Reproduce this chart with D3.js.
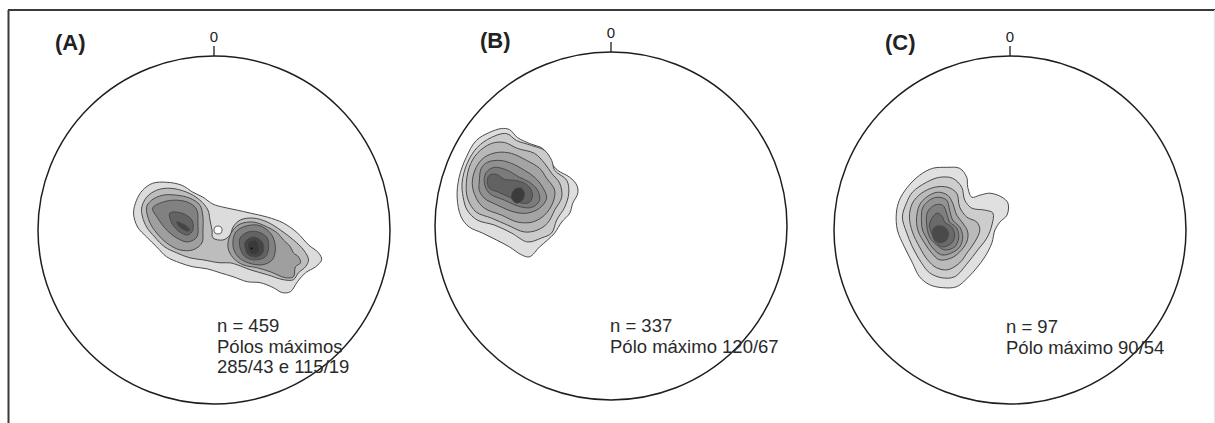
<!DOCTYPE html>
<html><head><meta charset="utf-8">
<script src="https://cdn.jsdelivr.net/npm/d3@7"></script>
<style>
html,body{margin:0;padding:0;background:#fff;}
svg{display:block;font-family:"Liberation Sans",Arial,sans-serif;}
</style></head>
<body>
<svg id="chart" width="1215" height="423"></svg>
<script>
// ---------- DATA (net units: x = east, y = north, net radius ≈ 175) ----------
const panelKeys = ["A", "B", "C"];
const panelLabels = ["(A)", "(B)", "(C)"];
const northLabel = "0";

const textA = ["n = 459", "Pólos máximos", "285/43 e 115/19"];
const textB = ["n = 337", "Pólo máximo 120/67"];
const textC = ["n = 97", "Pólo máximo 90/54"];

// density contours (level 1 = lowest density)
const contoursA = [
  {level: 1, pts: [[-80,17],[-77,30],[-71,40],[-61,47],[-47,48],[-32,45],[-21,38],[-11,33],[-1,26],[9,23],[23,20],[36,17],[53,13],[69,7],[83,-3],[94,-15],[104,-23],[107,-30],[101,-37],[91,-43],[83,-52],[76,-62],[68,-63],[59,-58],[46,-53],[33,-52],[19,-47],[6,-43],[-7,-39],[-21,-37],[-34,-33],[-47,-27],[-57,-17],[-67,-7],[-76,3]]},
  {level: 2, pts: [[-72,22],[-67,33],[-57,40],[-44,42],[-27,38],[-14,30],[-6,20],[-4,10],[-2,0],[-1,-8],[9,-10],[16,-5],[19,3],[26,10],[39,12],[53,8],[66,0],[79,-10],[89,-20],[94,-30],[91,-37],[84,-43],[79,-50],[69,-50],[53,-45],[36,-40],[23,-35],[16,-33],[6,-33],[-11,-30],[-24,-28],[-37,-23],[-49,-17],[-59,-7],[-67,3],[-71,13]]},
  {level: 3, pts: [[-67,23],[-62,30],[-51,35],[-37,35],[-24,32],[-14,25],[-11,13],[-11,0],[-12,-13],[-21,-20],[-34,-20],[-47,-13],[-57,-3],[-64,8]]},
  {level: 3, pts: [[19,0],[26,6],[39,8],[53,3],[63,-3],[69,-10],[76,-17],[79,-23],[84,-27],[86,-33],[81,-37],[79,-47],[71,-48],[56,-42],[43,-38],[29,-35],[19,-28],[14,-18],[15,-8]]},
  {level: 4, pts: [[-61,22],[-51,28],[-37,30],[-24,27],[-17,20],[-16,7],[-17,-7],[-26,-12],[-37,-8],[-47,0],[-56,12]]},
  {level: 4, pts: [[21,-3],[29,3],[43,5],[53,0],[59,-8],[61,-20],[58,-30],[48,-35],[34,-33],[24,-27],[19,-17]]},
  {level: 5, pts: [[-44,17],[-32,17],[-22,10],[-21,0],[-26,-5],[-34,-2],[-42,7]]},
  {level: 5, pts: [[26,-8],[34,-2],[44,-2],[53,-8],[54,-20],[51,-27],[41,-30],[31,-27],[26,-18]]},
  {level: 6, pts: [[-37,8],[-29,5],[-24,0],[-27,-1],[-34,3]]},
  {level: 6, pts: [[31,-12],[39,-7],[48,-12],[49,-22],[43,-27],[34,-25],[31,-18]]},
  {level: 7, pts: [[34,-13],[41,-10],[45,-17],[44,-23],[38,-25],[34,-20]]},
  {level: 8, pts: [[37,-17],[39,-18],[38,-20],[36,-19]]}
];
// empty (zero-density) pocket between the two maxima of A
const holesA = [{cx: 4, cy: 0, r: 4}];

const contoursB = [
  {level: 1, pts: [[-153,29],[-151,49],[-144,69],[-134,86],[-121,94],[-109,98],[-101,97],[-93,89],[-81,83],[-68,78],[-63,71],[-59,63],[-53,56],[-41,49],[-34,41],[-33,33],[-38,23],[-41,13],[-49,4],[-56,-7],[-63,-14],[-71,-21],[-81,-31],[-89,-29],[-101,-21],[-114,-14],[-128,-7],[-141,-1],[-149,9]]},
  {level: 2, pts: [[-148,44],[-143,63],[-133,79],[-119,89],[-104,93],[-94,86],[-79,81],[-66,76],[-59,66],[-56,56],[-44,46],[-42,33],[-46,19],[-54,6],[-59,-7],[-69,-12],[-83,-16],[-99,-7],[-116,1],[-133,6],[-143,16],[-147,29]]},
  {level: 3, pts: [[-144,39],[-141,59],[-133,73],[-119,83],[-106,84],[-93,78],[-76,73],[-66,63],[-59,53],[-51,43],[-49,29],[-56,16],[-63,3],[-73,-4],[-86,-6],[-103,1],[-119,8],[-134,14],[-142,26]]},
  {level: 4, pts: [[-138,43],[-134,59],[-126,69],[-113,74],[-99,73],[-84,66],[-71,58],[-64,48],[-56,36],[-58,23],[-66,11],[-78,4],[-93,4],[-109,11],[-126,18],[-134,28]]},
  {level: 5, pts: [[-131,44],[-129,58],[-123,64],[-111,66],[-99,63],[-86,56],[-76,49],[-68,39],[-64,28],[-71,18],[-83,13],[-96,14],[-113,21],[-126,28],[-131,36]]},
  {level: 6, pts: [[-126,44],[-124,54],[-116,59],[-103,56],[-91,49],[-81,44],[-73,36],[-71,26],[-78,19],[-89,19],[-106,26],[-121,33]]},
  {level: 7, pts: [[-123,46],[-121,51],[-114,52],[-106,47],[-97,46],[-88,44],[-81,39],[-78,31],[-81,24],[-89,23],[-101,29],[-112,34],[-121,38]]},
  {level: 8, pts: [[-98,34],[-94,38],[-89,38],[-86,33],[-88,26],[-94,23],[-99,28]]}
];

const contoursC = [
  {level: 1, pts: [[-113,17],[-110,30],[-102,43],[-90,55],[-77,62],[-63,63],[-50,62],[-43,53],[-42,43],[-38,33],[-30,35],[-20,37],[-8,33],[-2,27],[-3,15],[-10,8],[-15,0],[-18,-13],[-25,-27],[-33,-38],[-42,-48],[-53,-57],[-67,-58],[-80,-55],[-90,-47],[-97,-33],[-105,-17],[-112,0]]},
  {level: 2, pts: [[-107,13],[-103,27],[-97,38],[-83,48],[-70,53],[-57,52],[-48,43],[-45,30],[-38,22],[-25,20],[-17,17],[-18,5],[-23,-8],[-32,-20],[-42,-33],[-55,-47],[-68,-48],[-80,-43],[-88,-33],[-97,-17],[-103,-2]]},
  {level: 3, pts: [[-100,13],[-97,27],[-88,37],[-75,43],[-62,43],[-53,37],[-50,23],[-43,13],[-33,8],[-30,0],[-35,-12],[-42,-22],[-50,-33],[-62,-40],[-73,-38],[-82,-30],[-90,-17],[-97,-2]]},
  {level: 4, pts: [[-93,10],[-90,25],[-83,33],[-72,38],[-62,35],[-57,27],[-53,15],[-47,7],[-42,-2],[-43,-12],[-50,-22],[-58,-28],[-70,-30],[-78,-23],[-85,-13],[-91,-2]]},
  {level: 5, pts: [[-88,8],[-87,22],[-80,30],[-72,33],[-63,30],[-60,20],[-57,10],[-50,3],[-47,-7],[-50,-17],[-58,-23],[-68,-25],[-77,-18],[-83,-8],[-87,0]]},
  {level: 6, pts: [[-83,7],[-82,18],[-75,25],[-67,25],[-63,17],[-60,8],[-53,2],[-51,-8],[-55,-17],[-65,-20],[-73,-15],[-80,-7]]},
  {level: 7, pts: [[-80,5],[-77,13],[-72,17],[-67,13],[-65,8],[-58,3],[-55,-5],[-58,-13],[-67,-17],[-74,-12],[-78,-3]]},
  {level: 8, pts: [[-77,0],[-73,4],[-65,3],[-61,-3],[-63,-10],[-70,-13],[-76,-8]]}
];

// ---------- LAYOUT & STYLE ----------
const layout = {
  A: {cx: 214, cy: 230, rx: 176, ry: 174, labelX: 55, labelY: 50, textX: 217, textY: 332, contours: contoursA, holes: holesA, text: textA,
      colors: ["#dcdcdc","#bdbdbd","#9f9f9f","#818181","#636363","#454545","#3a3a3a","#111111"]},
  B: {cx: 611, cy: 226, rx: 176, ry: 174, labelX: 480, labelY: 48, textX: 610, textY: 332, contours: contoursB, holes: [], text: textB,
      colors: ["#dedede","#cbcbcb","#b8b8b8","#a4a4a4","#909090","#7b7b7b","#626262","#3c3c3c"]},
  C: {cx: 1010, cy: 230, rx: 176, ry: 174, labelX: 885, labelY: 50, textX: 1006, textY: 333, contours: contoursC, holes: [], text: textC,
      colors: ["#e0e0e0","#cdcdcd","#bababa","#a6a6a6","#939393","#7f7f7f","#6a6a6a","#4a4a4a"]}
};
const NET_R = 175;
const lineH = 20.5;

const svg = d3.select("#chart");

// frame
svg.append("line").attr("x1", 8).attr("x2", 1215).attr("y1", 10).attr("y2", 10)
  .attr("stroke", "#3a3a3a").attr("stroke-width", 2);
svg.append("line").attr("x1", 8.5).attr("x2", 8.5).attr("y1", 10).attr("y2", 423)
  .attr("stroke", "#3a3a3a").attr("stroke-width", 2);
svg.append("line").attr("x1", 1214.5).attr("x2", 1214.5).attr("y1", 10).attr("y2", 423)
  .attr("stroke", "#e4e4e4").attr("stroke-width", 1);

panelKeys.forEach((k, i) => {
  const L = layout[k];
  const x = d3.scaleLinear().domain([-NET_R, NET_R]).range([L.cx - L.rx, L.cx + L.rx]);
  const y = d3.scaleLinear().domain([-NET_R, NET_R]).range([L.cy + L.ry, L.cy - L.ry]);
  const g = svg.append("g").attr("class", "panel-" + k);

  const line = d3.line().x(d => x(d[0])).y(d => y(d[1])).curve(d3.curveCatmullRomClosed.alpha(0.5));

  const sorted = L.contours.slice().sort((a, b) => a.level - b.level);
  g.selectAll("path.contour").data(sorted).join("path")
    .attr("class", "contour")
    .attr("d", d => line(d.pts))
    .attr("fill", d => L.colors[d.level - 1])
    .attr("stroke", "#4a4a4a")
    .attr("stroke-width", d => d.level === 8 ? 0.6 : 1)
    .attr("stroke-linejoin", "round");

  g.selectAll("ellipse.hole").data(L.holes).join("ellipse")
    .attr("class", "hole")
    .attr("cx", d => x(d.cx)).attr("cy", d => y(d.cy))
    .attr("rx", d => x(d.r) - x(0)).attr("ry", d => y(0) - y(d.r))
    .attr("fill", "#ffffff").attr("stroke", "#5a5a5a").attr("stroke-width", 1);

  // primitive circle
  g.append("ellipse")
    .attr("cx", x(0)).attr("cy", y(0))
    .attr("rx", x(NET_R) - x(0)).attr("ry", y(0) - y(NET_R))
    .attr("fill", "none").attr("stroke", "#1e1e1e").attr("stroke-width", 1.5);

  // north tick and label
  g.append("line")
    .attr("x1", x(0)).attr("x2", x(0))
    .attr("y1", y(NET_R)).attr("y2", y(NET_R) - 10)
    .attr("stroke", "#1e1e1e").attr("stroke-width", 1.3);
  g.append("text")
    .attr("x", x(0)).attr("y", y(NET_R) - 14)
    .attr("text-anchor", "middle")
    .attr("font-size", 15).attr("fill", "#222")
    .text(northLabel);

  // panel label
  g.append("text")
    .attr("x", L.labelX).attr("y", L.labelY)
    .attr("font-size", 22).attr("font-weight", "bold").attr("fill", "#222")
    .text(panelLabels[i]);

  // statistics text
  g.selectAll("text.stat").data(L.text).join("text")
    .attr("class", "stat")
    .attr("x", L.textX).attr("y", (d, j) => L.textY + j * lineH)
    .attr("font-size", 18.5).attr("fill", "#2a2a2a")
    .text(d => d);
});
</script>
</body></html>
